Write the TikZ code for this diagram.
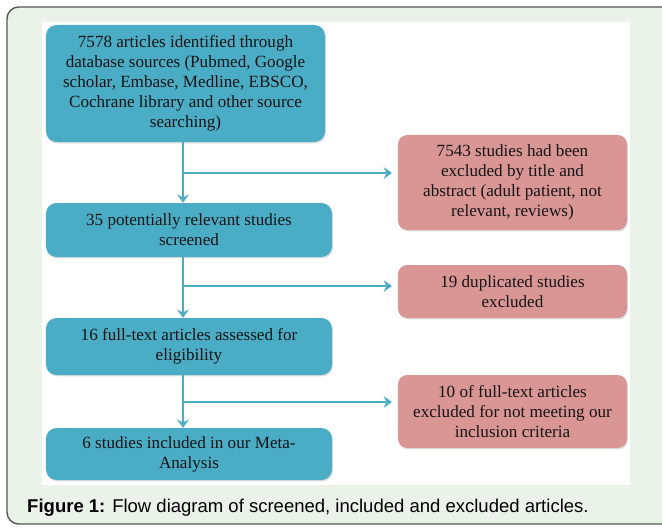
\documentclass[tikz,border=0pt]{standalone}
\usepackage{fontspec}
\setmainfont{Liberation Serif}
\newfontfamily\capfont{Liberation Sans}
\usetikzlibrary{arrows.meta,shadows}

\definecolor{boxblue}{HTML}{4BACC6}
\definecolor{boxpink}{HTML}{D99694}
\definecolor{panelgreen}{HTML}{EAF2E9}
\definecolor{framegray}{HTML}{555555}
\definecolor{inkdark}{HTML}{141414}

\tikzset{
  stage/.style={rectangle, rounded corners=9pt, fill=boxblue, text=inkdark,
    align=center, inner sep=2pt, font=\fontsize{14.6}{17.2}\selectfont,
    drop shadow={opacity=0.25, shadow xshift=0.8pt, shadow yshift=-1.2pt}},
  dropped/.style={rectangle, rounded corners=8pt, fill=boxpink, text=inkdark,
    align=center, inner sep=2pt, font=\fontsize{14.6}{17.2}\selectfont,
    drop shadow={opacity=0.25, shadow xshift=0.8pt, shadow yshift=-1.2pt}},
  flow/.style={draw=boxblue, line width=2pt,
    -{Stealth[length=7pt, width=10pt, inset=2.5pt]}}
}

\begin{document}
\begin{tikzpicture}[x=0.03cm, y=-0.03cm]
\useasboundingbox (0,0) rectangle (662,530);
\clip (0,0) rectangle (662,530);

% panel
\draw[framegray, line width=1.2pt, fill=panelgreen, rounded corners=10pt] (7,7) rectangle (690,524);
\fill[white] (42,22) rectangle (630,485);

% main column
\node[stage, minimum width=8.37cm, minimum height=3.51cm] (src) at (185.5,83.5)
  {7578 articles identified through\\ database sources (Pubmed, Google\\ scholar, Embase, Medline, EBSCO,\\ Cochrane library and other source\\ searching)};
\node[stage, minimum width=8.58cm, minimum height=1.62cm] (screen) at (189,230)
  {35 potentially relevant studies\\ screened};
\node[stage, minimum width=8.58cm, minimum height=1.71cm] (full) at (189,346.5)
  {16 full-text articles assessed for\\ eligibility};
\node[stage, minimum width=8.58cm, minimum height=1.56cm] (incl) at (189,454)
  {6 studies included in our Meta-\\ Analysis};

% excluded
\node[dropped, minimum width=6.87cm, minimum height=2.85cm] (ex1) at (512.5,182.5)
  {7543 studies had been\\ excluded by title and\\ abstract (adult patient, not\\ relevant, reviews)};
\node[dropped, minimum width=6.87cm, minimum height=1.59cm] (ex2) at (512.5,291.5)
  {19 duplicated studies\\ excluded};
\node[dropped, minimum width=6.87cm, minimum height=2.19cm] (ex3) at (512.5,411.5)
  {10 of full-text articles\\ excluded for not meeting our\\ inclusion criteria};

% connectors
\coordinate (b1) at (183,173);
\coordinate (b2) at (183,286);
\coordinate (b3) at (183,402);
\draw[flow] (src.south -| b1) -- (screen.north -| b1);
\draw[flow] (screen.south -| b2) -- (full.north -| b2);
\draw[flow] (full.south -| b3) -- (incl.north -| b3);
\draw[flow, shorten >=5pt] (b1) -- (b1 -| ex1.west);
\draw[flow, shorten >=5pt] (b2) -- (b2 -| ex2.west);
\draw[flow, shorten >=5pt] (b3) -- (b3 -| ex3.west);

% caption
\node[anchor=base west, inner sep=0pt, font=\capfont\fontsize{15.8}{19}\selectfont] (cap) at (27,512)
  {\textbf{Figure 1:} Flow diagram of screened, included and excluded articles.};
\end{tikzpicture}
\end{document}
